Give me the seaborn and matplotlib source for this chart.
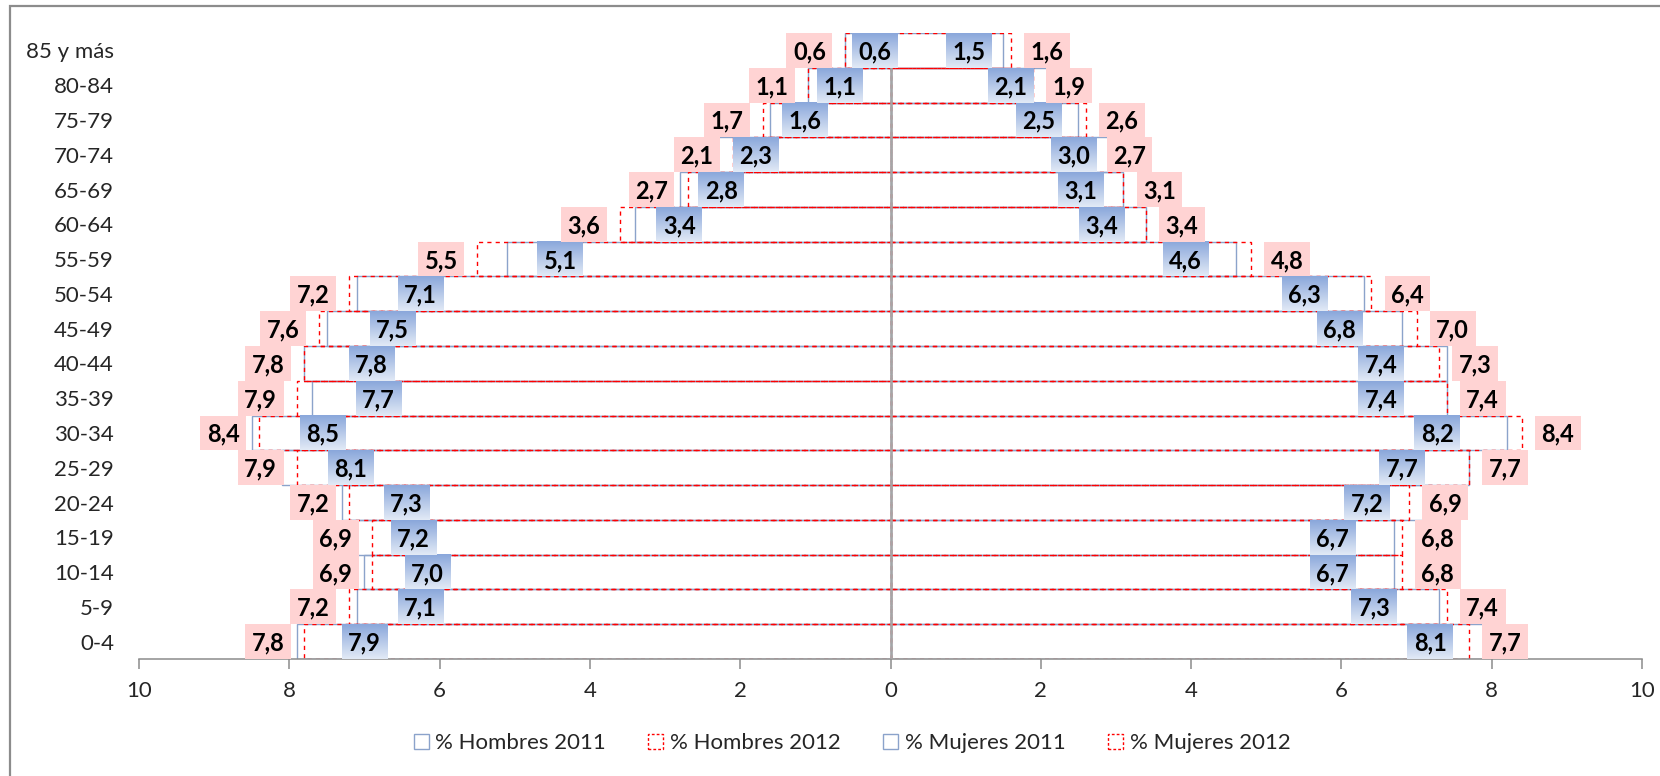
import numpy as np
import pandas as pd
import matplotlib
matplotlib.use("Agg")
import matplotlib.pyplot as plt
from matplotlib.patches import Rectangle, Patch
import seaborn as sns

# Age groups, youngest to oldest
grupos = ["0-4", "5-9", "10-14", "15-19", "20-24", "25-29", "30-34", "35-39",
          "40-44", "45-49", "50-54", "55-59", "60-64", "65-69", "70-74",
          "75-79", "80-84", "85 y más"]

# Share of population (%) per age group
hombres_2011 = [7.9, 7.1, 7.0, 7.2, 7.3, 8.1, 8.5, 7.7, 7.8, 7.5, 7.1, 5.1, 3.4, 2.8, 2.3, 1.6, 1.1, 0.6]
hombres_2012 = [7.8, 7.2, 6.9, 6.9, 7.2, 7.9, 8.4, 7.9, 7.8, 7.6, 7.2, 5.5, 3.6, 2.7, 2.1, 1.7, 1.1, 0.6]
mujeres_2011 = [8.1, 7.3, 6.7, 6.7, 7.2, 7.7, 8.2, 7.4, 7.4, 6.8, 6.3, 4.6, 3.4, 3.1, 3.0, 2.5, 2.1, 1.5]
mujeres_2012 = [7.7, 7.4, 6.8, 6.8, 6.9, 7.7, 8.4, 7.4, 7.3, 7.0, 6.4, 4.8, 3.4, 3.1, 2.7, 2.6, 1.9, 1.6]

series_names = ["% Hombres 2011", "% Hombres 2012", "% Mujeres 2011", "% Mujeres 2012"]
x_ticks = [-10, -8, -6, -4, -2, 0, 2, 4, 6, 8, 10]

sns.set_theme(style="white")
plt.rcParams["font.family"] = ["Lato", "DejaVu Sans"]

BLUE_EDGE = "#8BA3CB"
RED_EDGE = "#FF0000"
PINK_BOX = "#FFD3D3"
TEXT_COL = "#262626"
AXIS_COL = "#8C8C8C"

W, H = 1660, 776
fig = plt.figure(figsize=(W / 100, H / 100), dpi=100)
ax = fig.add_axes([139 / W, 1 - 659 / H, (1642 - 139) / W, (659 - 33) / H])

orden = grupos[::-1]  # oldest at the top

def frame(values, sign):
    return pd.DataFrame({"grupo": grupos, "valor": sign * np.asarray(values, dtype=float)})

styles = [
    (frame(hombres_2011, -1), BLUE_EDGE, "-", 1.0),
    (frame(hombres_2012, -1), RED_EDGE, (0, (3, 3)), 1.0),
    (frame(mujeres_2011, 1), BLUE_EDGE, "-", 1.0),
    (frame(mujeres_2012, 1), RED_EDGE, (0, (3, 3)), 1.0),
]

for df, col, ls, lw in styles:
    n0 = len(ax.patches)
    sns.barplot(data=df, x="valor", y="grupo", order=orden, orient="h",
                fill=False, color=col, saturation=1, width=1.0,
                errorbar=None, ax=ax)
    for p in ax.patches[n0:]:
        p.set_facecolor("none")
        p.set_edgecolor(col)
        p.set_linestyle(ls)
        p.set_linewidth(lw)
        p.set_zorder(2)

# vertical category axis at zero
ax.axvline(0, color="#A6A6A6", lw=1.8, zorder=3)

# value labels
BOX_W = 0.61
grad_top = np.array([0x8A, 0xA7, 0xDB]) / 255
grad_bot = np.array([0xE2, 0xEA, 0xF6]) / 255
t = np.linspace(0, 1, 64)[:, None]
gradient = (grad_top * (1 - t) + grad_bot * t)[:, None, :]

def fmt(v):
    return f"{v:.1f}".replace(".", ",")

def label_pair(v11, v12, y, sign):
    # 2011 label: gradient box inside the bar end
    c = sign * (v11 - (0.35 + 0.07 * v11))
    ax.imshow(gradient, extent=[c - BOX_W / 2, c + BOX_W / 2, y + 0.5, y - 0.5],
              origin="upper", aspect="auto", interpolation="bilinear", zorder=4)
    ax.text(c, y + 0.04, fmt(v11), ha="center", va="center", fontsize=17,
            fontweight="bold", color="black", zorder=5)
    # 2012 label: pink box just outside the bar end
    c = sign * (v12 + 0.48)
    ax.add_patch(Rectangle((c - BOX_W / 2, y - 0.5), BOX_W, 1.0,
                           facecolor=PINK_BOX, edgecolor="none", zorder=4))
    ax.text(c, y + 0.04, fmt(v12), ha="center", va="center", fontsize=17,
            fontweight="bold", color="black", zorder=5)

for i, g in enumerate(grupos):
    y = orden.index(g)
    label_pair(hombres_2011[i], hombres_2012[i], y, -1)
    label_pair(mujeres_2011[i], mujeres_2012[i], y, 1)

# axes styling
ax.set_xlim(-10, 10)
ax.set_ylim(len(orden) - 0.5, -0.5)
ax.set_xticks(x_ticks)
ax.set_xticklabels([str(abs(v)) for v in x_ticks])
ax.set_xlabel("")
ax.set_ylabel("")
for s in ["top", "right", "left"]:
    ax.spines[s].set_visible(False)
ax.spines["bottom"].set_color(AXIS_COL)
ax.spines["bottom"].set_linewidth(1.1)
ax.tick_params(axis="x", direction="out", length=7, width=1.1, color=AXIS_COL,
               labelsize=16, labelcolor=TEXT_COL, pad=9, bottom=True)
ax.tick_params(axis="y", length=0, labelsize=16, labelcolor=TEXT_COL, pad=18)
ax.grid(False)
ax.set_facecolor("white")

# legend
handles = [
    Patch(facecolor="white", edgecolor=BLUE_EDGE, linewidth=1.0, label=series_names[0]),
    Patch(facecolor="white", edgecolor=RED_EDGE, linewidth=1.0, linestyle=(0, (2, 1.5)), label=series_names[1]),
    Patch(facecolor="white", edgecolor=BLUE_EDGE, linewidth=1.0, label=series_names[2]),
    Patch(facecolor="white", edgecolor=RED_EDGE, linewidth=1.0, linestyle=(0, (2, 1.5)), label=series_names[3]),
]
fig.legend(handles=handles, loc="center", bbox_to_anchor=(852 / W, 1 - 743 / H),
           ncol=4, frameon=False, fontsize=16, handlelength=0.68, handleheight=0.68,
           handletextpad=0.3, columnspacing=1.9, labelcolor=TEXT_COL)

# outer chart border
fig.patches.append(Rectangle((10 / W, -0.5), 2.0, 0.5 + (1 - 6 / H),
                             transform=fig.transFigure, fill=False,
                             edgecolor="#8C8C8C", linewidth=1.6, zorder=0))

fig.savefig("out.png", dpi=100, facecolor="white")
